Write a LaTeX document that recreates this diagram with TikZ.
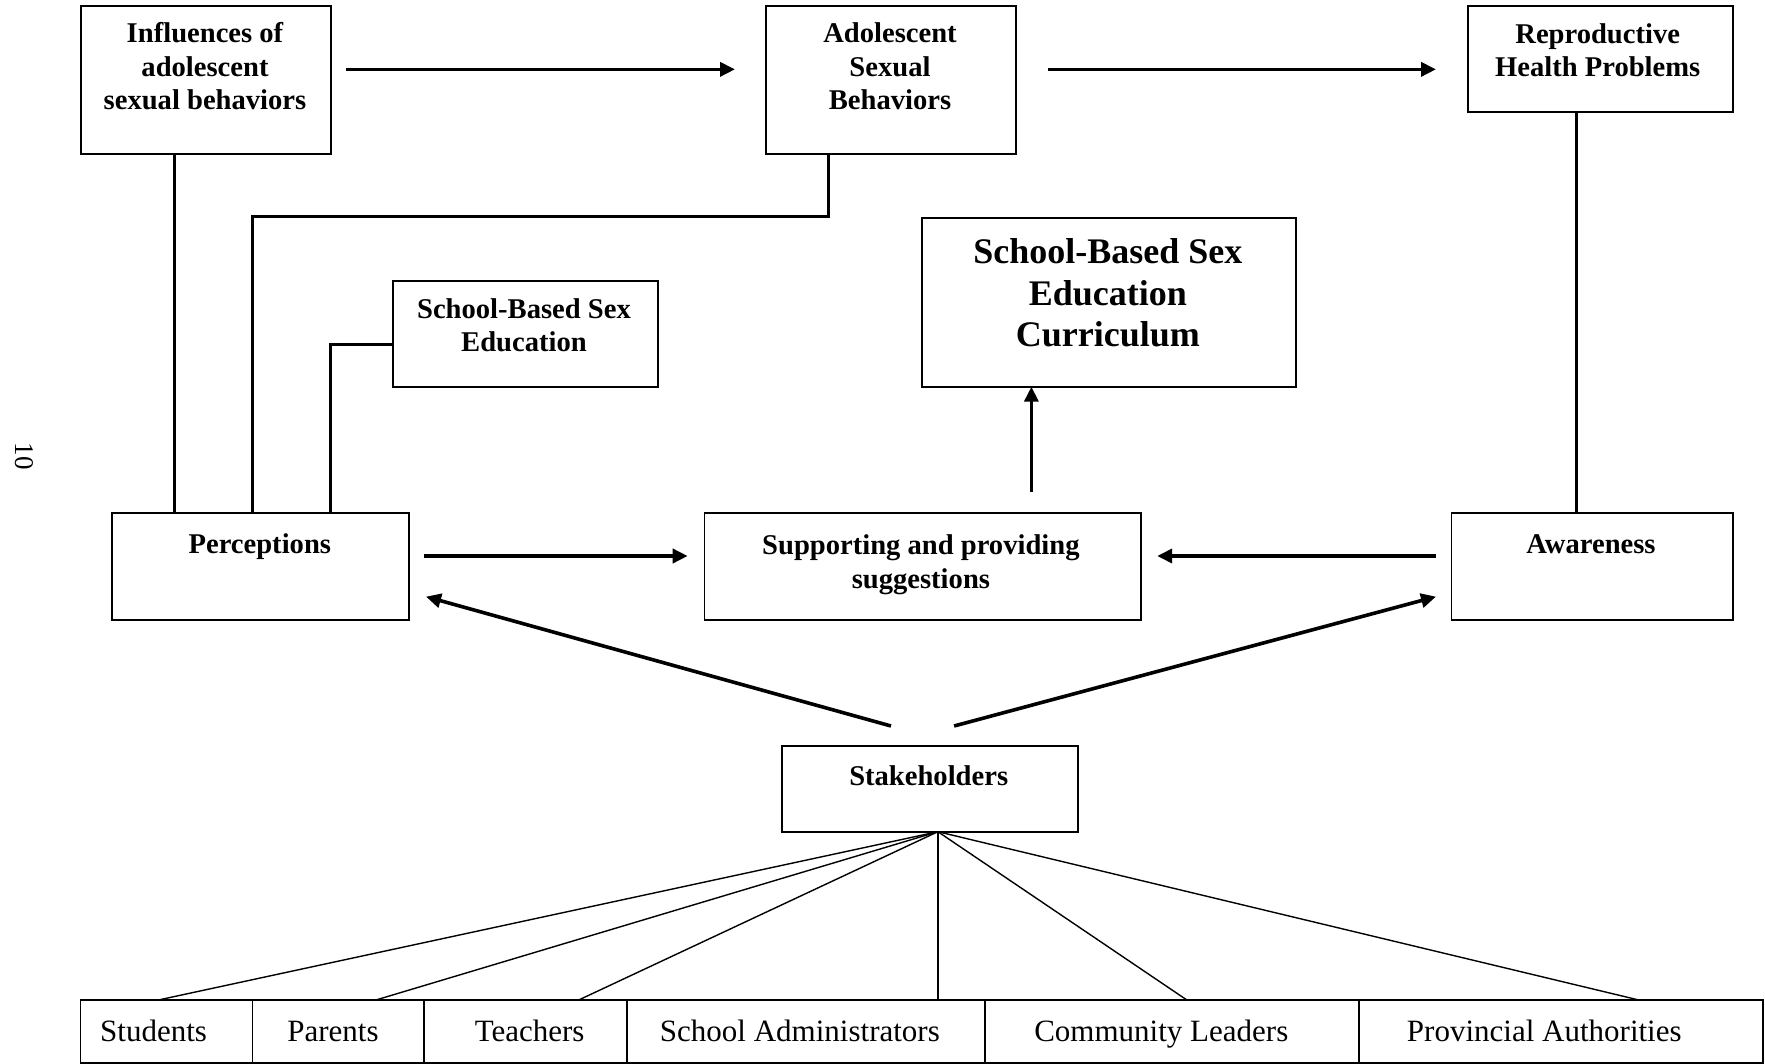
\documentclass[tikz,border=0pt]{standalone}
\usepackage{fontspec}
\setmainfont{Liberation Serif}
\usetikzlibrary{arrows.meta,calc}
\tikzset{
  box/.style n args={2}{draw, line width=1.7pt, minimum width=#1pt, minimum height=#2pt, inner sep=0pt, outer sep=0pt},
  lbl/.style={font=\fontsize{28.6}{33.6}\selectfont\bfseries, align=center, anchor=base, inner sep=0pt},
  biglbl/.style={font=\fontsize{36}{41.5}\selectfont\bfseries, align=center, anchor=base, inner sep=0pt},
  cell/.style={font=\fontsize{31}{36}\selectfont, anchor=base, inner sep=0pt},
  conn/.style={line width=3pt},
  arr/.style={line width=3.6pt, -{Triangle[length=15pt,width=14pt]}},
  fan/.style={line width=1.4pt}
}
\begin{document}
\begin{tikzpicture}[x=1pt,y=-1pt]
\useasboundingbox (0,0) rectangle (1765,1064);
% boxes
\node[box={250}{148.3}] (infl) at (206,79.85) {};
\node[box={249.8}{148.3}] (adol) at (890.9,79.85) {};
\node[box={264.9}{106}] (repr) at (1600.25,58.7) {};
\node[box={265.3}{106.3}] (sbse) at (525.35,334.15) {};
\node[box={374}{169}] (curr) at (1109.3,302.2) {};
\node[box={296.7}{106.7}] (perc) at (260.35,566.65) {};
\node[box={436.7}{106.7}] (supp) at (922.75,566.65) {};
\node[box={281.1}{106.7}] (awar) at (1592.15,566.65) {};
\node[box={296.3}{85.7}] (stak) at (930.05,788.85) {};
\node[box={172.2}{62.4}] (c1) at (166.5,1031.5) {};
\node[box={171.6}{62.4}] (c2) at (338.4,1031.5) {};
\node[box={202.7}{62.4}] (c3) at (525.55,1031.5) {};
\node[box={357.8}{62.4}] (c4) at (805.8,1031.5) {};
\node[box={374}{62.4}] (c5) at (1171.7,1031.5) {};
\node[box={404.6}{62.4}] (c6) at (1561,1031.5) {};
% texts (base = last line)
\node[lbl] (tinfl) at (205,110) {Influences of\\adolescent\\sexual behaviors};
\node[lbl] (tadol) at (890,110) {Adolescent\\Sexual\\Behaviors};
\node[lbl] (trepr) at (1597.7,77) {Reproductive\\Health Problems};
\node[lbl] (tsbse) at (524,352) {School-Based Sex\\Education};
\node[biglbl] (tcurr) at (1107.9,347) {School-Based Sex\\Education\\Curriculum};
\node[lbl] (tperc) at (259.8,553) {Perceptions};
\node[lbl] (tsupp) at (920.9,588) {Supporting and providing\\suggestions};
\node[lbl] (tawar) at (1591,553) {Awareness};
\node[lbl] (tstak) at (928.7,785) {Stakeholders};
\node[cell] (t1) at (153.6,1041.7) {Students};
\node[cell] (t2) at (333,1041.7) {Parents};
\node[cell] (t3) at (529.6,1041.7) {Teachers};
\node[cell] (t4) at (799.9,1041.7) {School Administrators};
\node[cell] (t5) at (1161.3,1041.7) {Community Leaders};
\node[cell] (t6) at (1544.3,1041.7) {Provincial Authorities};
\node[font=\fontsize{27}{30}\selectfont, rotate=-90, inner sep=0pt] (pnum) at (24,456) {10};
% top arrows
\draw[arr, shorten <=15pt, shorten >=31pt] ([yshift=10.5pt]infl.east) -- ([yshift=10.5pt]infl.east -| adol.west);
\draw[arr, shorten <=31.8pt, shorten >=31.8pt] ([yshift=10.5pt]adol.east) -- ([yshift=10.5pt]adol.east -| repr.west);
% lines to perceptions / awareness
\draw[conn] ([xshift=-31.5pt]infl.south) -- ([xshift=-31.5pt]infl.south |- perc.north);
\draw[conn] ([xshift=-62.9pt]adol.south) -- ++(0,63) -| ([xshift=-7.75pt]perc.north);
\draw[conn] ([yshift=-10pt]sbse.west) -| ([xshift=70.35pt]perc.north);
\draw[conn] ([xshift=-23.45pt]repr.south) -- ([xshift=-23.45pt]repr.south |- awar.north);
% middle arrows
\draw[arr, shorten <=21.3pt] ([xshift=108.65pt]supp.north) -- ([xshift=108.65pt]supp.north |- curr.south);
\draw[arr, shorten <=15.3pt, shorten >=16.7pt] ([yshift=10.65pt]perc.east) -- ([yshift=10.65pt]perc.east -| supp.west);
\draw[arr, shorten <=15.6pt, shorten >=16.1pt] ([yshift=10.65pt]awar.west) -- ([yshift=10.65pt]awar.west -| supp.east);
\draw[arr] ([xshift=-39.05pt,yshift=20pt]stak.north) -- ([xshift=17.3pt,yshift=-30pt]perc.east);
\draw[arr] ([xshift=24.05pt,yshift=20pt]stak.north) -- ([xshift=-15.6pt,yshift=-30pt]awar.west);
% fan
\coordinate (hub) at ([xshift=7.85pt]stak.south);
\draw[fan] (hub) -- ([xshift=-9.5pt]c1.north);
\draw[fan] (hub) -- ([xshift=36.5pt]c2.north);
\draw[fan] (hub) -- ([xshift=52.5pt]c3.north);
\draw[fan] (hub) -- ([xshift=132.1pt]c4.north);
\draw[fan] (hub) -- ([xshift=15.6pt]c5.north);
\draw[fan] (hub) -- ([xshift=79pt]c6.north);
\end{tikzpicture}
\end{document}
